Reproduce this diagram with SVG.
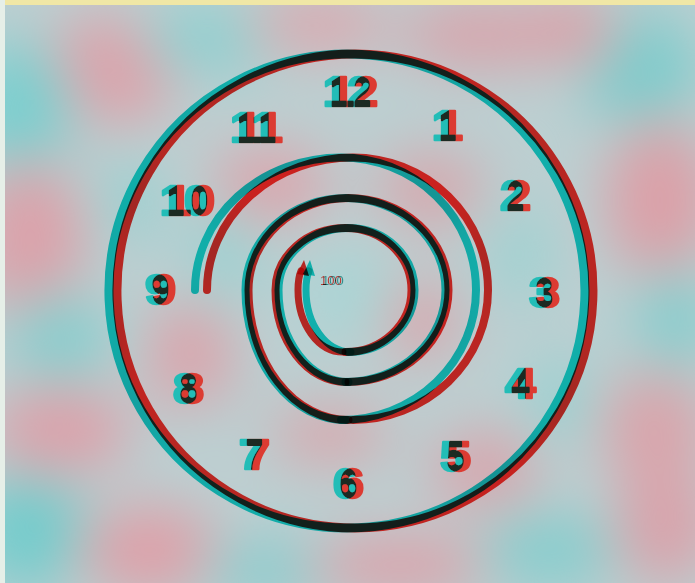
<svg xmlns="http://www.w3.org/2000/svg" width="695" height="583" viewBox="0 0 695 583">
  <defs>
    <filter id="bgblur" x="-50%" y="-50%" width="200%" height="200%">
      <feGaussianBlur stdDeviation="28"/>
    </filter>
    <filter id="ana" x="-30%" y="-30%" width="160%" height="160%">
      <feOffset in="SourceAlpha" dx="-3.5" result="a"/>
      <feFlood flood-color="#22bdb7"/>
      <feComposite in2="a" operator="in" result="c"/>
      <feOffset in="SourceAlpha" dx="3.5" result="b"/>
      <feFlood flood-color="#dc3a30"/>
      <feComposite in2="b" operator="in" result="r"/>
      <feBlend in="c" in2="r" mode="multiply" result="m"/>
      <feGaussianBlur in="m" stdDeviation="0.6"/>
    </filter>
    <filter id="anaS" x="-30%" y="-30%" width="160%" height="160%">
      <feOffset in="SourceAlpha" dx="1" result="a"/>
      <feFlood flood-color="#2f8f8c"/>
      <feComposite in2="a" operator="in" result="c"/>
      <feOffset in="SourceAlpha" dx="-1" result="b"/>
      <feFlood flood-color="#b83a34"/>
      <feComposite in2="b" operator="in" result="r"/>
      <feBlend in="c" in2="r" mode="multiply" result="m"/>
      <feGaussianBlur in="m" stdDeviation="0.4"/>
    </filter>
    <path id="outer" d="M351,54 A238,237 0 1 1 350.9,54 Z"/>
    <path id="seg1" d="M201,290 A146,132.5 0 0 1 347,157.5 A135,132.5 0 0 1 482,290 A135,130 0 0 1 347,420"/>
    <path id="seg2" d="M347,420 A100,130 0 0 1 247,290 A100,92 0 0 1 347,198 A100,92 0 0 1 447,290 A100,92 0 0 1 347,382"/>
    <path id="seg3" d="M347,382 A70,92 0 0 1 277,290 A70,62 0 0 1 347,228 A66,62 0 0 1 413,290 A66,62 0 0 1 347,352"/>
    <path id="seg4" d="M347,352 A45,62 0 0 1 302,290 Q302,278 305,271"/>
    <path id="arrowhead" d="M300,274 L307,260 L312,276 Z"/>
  </defs>
  <style>
    .ln { fill: none; stroke-linecap: round; stroke-linejoin: round; }
    .cy { mix-blend-mode: multiply; stroke: #18d6d0; }
    .rd { mix-blend-mode: multiply; stroke: #f8302a; }
    .cyf { mix-blend-mode: multiply; fill: #18d6d0; }
    .rdf { mix-blend-mode: multiply; fill: #f8302a; }
    .num { font-family: "Liberation Sans", Arial, sans-serif; font-weight: bold; font-size: 43px; text-anchor: middle; fill: #000; stroke: #000; stroke-width: 2.4; stroke-linejoin: round; filter: url(#ana); }
    .small { font-family: "Liberation Sans", Arial, sans-serif; font-size: 13px; fill: #000; filter: url(#anaS); }
  </style>

  <g id="background">
    <rect x="0" y="0" width="695" height="583" fill="#bccfd1"/>
    <g filter="url(#bgblur)">
      <ellipse cx="110" cy="70" rx="70" ry="55" fill="#dda3ab"/>
      <ellipse cx="20" cy="110" rx="55" ry="70" fill="#7ccfcf"/>
      <ellipse cx="210" cy="40" rx="70" ry="35" fill="#8fd0d0"/>
      <ellipse cx="320" cy="25" rx="70" ry="30" fill="#dba8af"/>
      <ellipse cx="480" cy="35" rx="80" ry="35" fill="#d8a4ac"/>
      <ellipse cx="640" cy="70" rx="60" ry="60" fill="#80cccc"/>
      <ellipse cx="570" cy="30" rx="45" ry="35" fill="#dba0a8"/>
      <ellipse cx="30" cy="240" rx="55" ry="80" fill="#dba2aa"/>
      <ellipse cx="60" cy="340" rx="50" ry="50" fill="#88cece"/>
      <ellipse cx="60" cy="430" rx="70" ry="45" fill="#dda1aa"/>
      <ellipse cx="30" cy="530" rx="60" ry="60" fill="#74cccc"/>
      <ellipse cx="150" cy="550" rx="70" ry="45" fill="#dea0a9"/>
      <ellipse cx="270" cy="570" rx="70" ry="30" fill="#8ccccd"/>
      <ellipse cx="400" cy="565" rx="90" ry="30" fill="#dba2aa"/>
      <ellipse cx="550" cy="550" rx="70" ry="40" fill="#88cdcd"/>
      <ellipse cx="665" cy="525" rx="50" ry="60" fill="#d9a3ab"/>
      <ellipse cx="660" cy="200" rx="55" ry="80" fill="#dba0a8"/>
      <ellipse cx="675" cy="320" rx="40" ry="55" fill="#88cdcd"/>
      <ellipse cx="655" cy="430" rx="55" ry="60" fill="#d9a5ac"/>
      <ellipse cx="270" cy="185" rx="60" ry="40" fill="#dba6ad"/>
      <ellipse cx="430" cy="190" rx="55" ry="40" fill="#d6a9af"/>
      <ellipse cx="190" cy="355" rx="45" ry="55" fill="#d9a6ad"/>
      <ellipse cx="420" cy="320" rx="40" ry="40" fill="#daa5ac"/>
      <ellipse cx="330" cy="435" rx="60" ry="30" fill="#d8a8ae"/>
      <ellipse cx="485" cy="470" rx="55" ry="40" fill="#d8a6ad"/>
      <ellipse cx="350" cy="295" rx="45" ry="45" fill="#a8d6d6"/>
      <ellipse cx="225" cy="255" rx="35" ry="50" fill="#9cd2d2"/>
      <ellipse cx="520" cy="255" rx="35" ry="50" fill="#a0d2d2"/>
      <ellipse cx="130" cy="200" rx="30" ry="40" fill="#96d0d0"/>
      <ellipse cx="560" cy="400" rx="35" ry="45" fill="#9ad1d1"/>
    </g>
    <rect x="0" y="0" width="695" height="5" fill="#f0e7a6"/>
    <rect x="0" y="0" width="5" height="583" fill="#e6efe8"/>
  </g>

  <g id="outer-ring">
    <use href="#outer" class="ln cy" stroke-width="9" transform="translate(-4,0)"/>
    <use href="#outer" class="ln rd" stroke-width="9" transform="translate(4,0)"/>
  </g>

  <g id="spiral">
    <use href="#seg1" class="ln cy" stroke-width="8" transform="translate(-6,0)"/>
    <use href="#seg1" class="ln rd" stroke-width="8" transform="translate(6,0)"/>
    <use href="#seg2" class="ln cy" stroke-width="8" transform="translate(-1.5,0)"/>
    <use href="#seg2" class="ln rd" stroke-width="8" transform="translate(1.5,0)"/>
    <use href="#seg3" class="ln cy" stroke-width="8" transform="translate(1.5,0)"/>
    <use href="#seg3" class="ln rd" stroke-width="8" transform="translate(-1.5,0)"/>
    <use href="#seg4" class="ln cy" stroke-width="7" transform="translate(4,0)"/>
    <use href="#seg4" class="ln rd" stroke-width="7" transform="translate(-4,0)"/>
    <use href="#arrowhead" class="cyf" transform="translate(3,0)"/>
    <use href="#arrowhead" class="rdf" transform="translate(-3,0)"/>
  </g>

  <g id="label-100">
    <text x="321" y="285" class="small">100</text>
  </g>

  <g id="numbers">
    <text id="n12" x="350" y="106" class="num">12</text>
    <text id="n1" x="447" y="140" class="num">1</text>
    <text id="n2" x="515" y="210" class="num">2</text>
    <text id="n3" x="544" y="307" class="num">3</text>
    <text id="n4" x="520" y="398" class="num">4</text>
    <text id="n5" x="455" y="471" class="num">5</text>
    <text id="n6" x="348" y="498" class="num">6</text>
    <text id="n7" x="254" y="469" class="num">7</text>
    <text id="n8" x="188" y="403" class="num">8</text>
    <text id="n9" x="160" y="304" class="num">9</text>
    <text id="n10" x="187" y="215" class="num">10</text>
    <text id="n11" x="256" y="142" class="num">11</text>
  </g>
</svg>
